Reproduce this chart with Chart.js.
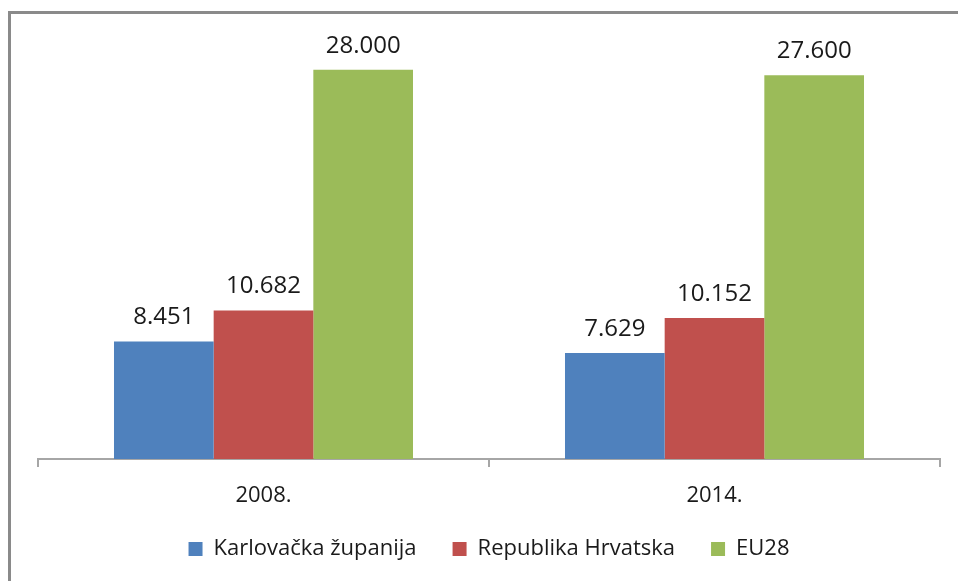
<!DOCTYPE html>
<html>
<head>
<meta charset="utf-8">
<script src="https://cdn.jsdelivr.net/npm/chart.js@4/dist/chart.umd.min.js"></script>
<style>
  html, body { margin: 0; padding: 0; background: #fff; overflow: hidden; }
  #wrap { position: relative; width: 958px; height: 581px; }
  #frame {
    position: absolute; left: 8px; top: 11px; width: 1000px; height: 700px;
    border-left: 3px solid #8a8a8a; border-top: 3px solid #8a8a8a;
    pointer-events: none;
  }
  canvas { position: absolute; left: 0; top: 0; }
</style>
</head>
<body>
<div id="wrap">
  <canvas id="chart" width="958" height="581"></canvas>
  <div id="frame"></div>
</div>
<script>
// === data ===
const years = ["2008.", "2014."];
const seriesNames = ["Karlovačka županija", "Republika Hrvatska", "EU28"];
const karlovac = [8451, 7629];
const hrvatska = [10682, 10152];
const eu28 = [28000, 27600];
const seriesColors = ["#4F81BD", "#C0504D", "#9BBB59"];

const FONT = "'Open Sans', Lato, sans-serif";
const LEGEND_HEIGHT = 79;
const XAXIS_HEIGHT = 43;

// thousands with a dot, as in the original
function fmt(v) {
    return String(v).replace(/\B(?=(\d{3})+(?!\d))/g, ".");
}

// value labels above the bars
const barLabels = {
    id: "barLabels",
    afterDatasetsDraw(chart) {
        const ctx = chart.ctx;
        ctx.save();
        ctx.font = "24px " + FONT;
        ctx.fillStyle = "#1a1a1a";
        ctx.textAlign = "center";
        ctx.textBaseline = "bottom";
        chart.data.datasets.forEach((ds, i) => {
            const meta = chart.getDatasetMeta(i);
            meta.data.forEach((bar, j) => {
                ctx.fillText(fmt(ds.data[j]), bar.x, bar.y - 12);
            });
        });
        ctx.restore();
    }
};

// keep the legend block a fixed height so the axis stays put
const legendFit = {
    id: "legendFit",
    beforeInit(chart) {
        const fit = chart.legend.fit;
        chart.legend.fit = function () {
            fit.call(this);
            this.height = LEGEND_HEIGHT;
        };
    }
};

const ctx = document.getElementById("chart").getContext("2d");
new Chart(ctx, {
    type: "bar",
    data: {
        labels: years,
        datasets: [karlovac, hrvatska, eu28].map((d, i) => ({
            label: seriesNames[i],
            data: d,
            backgroundColor: seriesColors[i],
            borderWidth: 0,
            categoryPercentage: 0.663,
            barPercentage: 1.0,
        }))
    },
    options: {
        responsive: false,
        animation: false,
        layout: { padding: { left: 38, right: 18, top: 42, bottom: 0 } },
        scales: {
            y: {
                display: false,
                min: 0,
                max: 30000,
            },
            x: {
                afterFit(scale) { scale.height = XAXIS_HEIGHT; },
                grid: {
                    drawOnChartArea: false,
                    drawTicks: true,
                    tickLength: 8,
                    color: "#a6a6a6",
                    lineWidth: 2,
                },
                border: { color: "#a6a6a6", width: 2 },
                ticks: {
                    color: "#1a1a1a",
                    font: { family: FONT, size: 22 },
                    padding: 16,
                },
            }
        },
        plugins: {
            legend: {
                position: "bottom",
                labels: {
                    boxWidth: 14,
                    boxHeight: 14,
                    padding: 36,
                    color: "#1a1a1a",
                    font: { family: FONT, size: 22 },
                }
            },
            tooltip: { enabled: false }
        }
    },
    plugins: [barLabels, legendFit]
});
</script>
</body>
</html>
